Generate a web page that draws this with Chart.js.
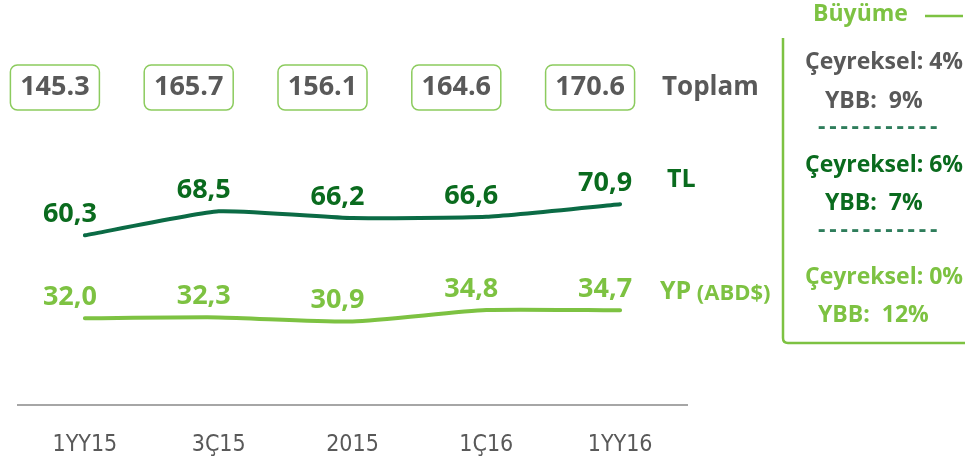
<!DOCTYPE html>
<html>
<head>
<meta charset="utf-8">
<script src="https://cdn.jsdelivr.net/npm/chart.js@4/dist/chart.umd.min.js"></script>
<style>
  html,body{margin:0;padding:0;background:#fff;}
  #wrap{width:965px;height:465px;position:relative;}
</style>
</head>
<body>
<div id="wrap"><canvas id="c" width="965" height="465"></canvas></div>
<script>
const categories = ['1YY15', '3Ç15', '2015', '1Ç16', '1YY16'];
const tlValues = [60.3, 68.5, 66.2, 66.6, 70.9];
const ypValues = [32.0, 32.3, 30.9, 34.8, 34.7];
const totals = [145.3, 165.7, 156.1, 164.6, 170.6];
const seriesNames = ['TL', 'YP'];
const seriesNameSuffix = '(ABD$)';
const totalLabel = 'Toplam';
const growthTitle = 'Büyüme';
const growthQuarterly = ['4%', '6%', '0%'];
const growthYtd = ['9%', '7%', '12%'];

const GRAY = '#595959';
const DARK = '#0A6B1E';
const DARK_LINE = '#0B6B45';
const LIGHT = '#7DC242';
const DASH = '#2E7D5B';
const FONT = '"Open Sans", Lato, sans-serif';

const fmt = v => v.toFixed(1).replace('.', ',');

const overlay = {
  id: 'overlay',
  afterDatasetsDraw(chart) {
    const ctx = chart.ctx;
    const xs = chart.scales.x;
    ctx.save();
    // data labels
    const labelColors = [DARK, LIGHT];
    chart.data.datasets.forEach((ds, di) => {
      const meta = chart.getDatasetMeta(di);
      ctx.font = 'bold 27px ' + FONT;
      ctx.fillStyle = labelColors[di];
      ctx.textAlign = 'center';
      ctx.textBaseline = 'middle';
      meta.data.forEach((pt, i) => {
        ctx.fillText(fmt(ds.data[i]), pt.x - 15, pt.y - 21);
      });
    });
    // series names
    const tlLast = chart.getDatasetMeta(0).data[tlValues.length - 1];
    const ypLast = chart.getDatasetMeta(1).data[ypValues.length - 1];
    ctx.textAlign = 'left';
    ctx.font = 'bold 25px ' + FONT;
    ctx.fillStyle = DARK;
    ctx.fillText(seriesNames[0], chart.chartArea.right - 20, tlLast.y - 24);
    ctx.fillStyle = LIGHT;
    ctx.fillText(seriesNames[1], chart.chartArea.right - 27, ypLast.y - 18);
    const w = ctx.measureText(seriesNames[1] + ' ').width;
    ctx.font = 'bold 22px ' + FONT;
    ctx.fillText(seriesNameSuffix, chart.chartArea.right - 28 + w, ypLast.y - 17);

    // total boxes
    totals.forEach((t, i) => {
      const cx = xs.getPixelForValue(i) - 30;
      const bw = 89, bh = 45, by = 65;
      ctx.beginPath();
      ctx.roundRect(cx - bw / 2, by, bw, bh, 7);
      ctx.lineWidth = 1.5;
      ctx.strokeStyle = '#8CCB5E';
      ctx.stroke();
      ctx.font = 'bold 27px ' + FONT;
      ctx.fillStyle = GRAY;
      ctx.textAlign = 'center';
      ctx.textBaseline = 'middle';
      ctx.fillText(t.toFixed(1), cx, by + bh / 2);
    });
    ctx.textAlign = 'left';
    ctx.font = 'bold 26px ' + FONT;
    ctx.fillStyle = GRAY;
    ctx.fillText(totalLabel, 662, 88);

    // growth panel
    ctx.strokeStyle = LIGHT;
    ctx.lineWidth = 2.5;
    ctx.beginPath();
    ctx.moveTo(783, 38);
    ctx.lineTo(783, 338);
    ctx.quadraticCurveTo(783, 343, 788, 343);
    ctx.lineTo(965, 343);
    ctx.stroke();
    ctx.beginPath();
    ctx.moveTo(925, 16);
    ctx.lineTo(963, 16);
    ctx.stroke();

    ctx.font = 'bold 23px ' + FONT;
    ctx.fillStyle = LIGHT;
    ctx.fillText(growthTitle, 813, 14);

    const colors = [GRAY, DARK, LIGHT];
    const qY = [62, 165, 277];
    const yY = [101, 203, 315];
    for (let k = 0; k < 3; k++) {
      ctx.fillStyle = colors[k];
      ctx.font = 'bold 23px ' + FONT;
      ctx.fillText('Çeyreksel: ' + growthQuarterly[k], 805, qY[k]);
      ctx.fillText('YBB:  ' + growthYtd[k], growthYtd[k].length > 2 ? 818 : 825, yY[k]);
      if (k < 2) {
        ctx.fillStyle = DASH;
        ctx.letterSpacing = '3.8px';
        ctx.font = 'bold 23px ' + FONT;
        ctx.fillText('-----------', 818, qY[k] + 65);
        ctx.letterSpacing = '0px';
      }
    }
    ctx.restore();
  }
};

new Chart(document.getElementById('c'), {
  type: 'line',
  data: {
    labels: categories,
    datasets: [
      { label: 'TL', data: tlValues, borderColor: DARK_LINE, borderWidth: 4, pointRadius: 0, tension: 0.15, borderCapStyle: 'round' },
      { label: 'YP', data: ypValues, borderColor: LIGHT, borderWidth: 4, pointRadius: 0, tension: 0.2, borderCapStyle: 'round' }
    ]
  },
  options: {
    responsive: false,
    animation: false,
    layout: { padding: { left: 18, right: 278, top: 0, bottom: 0 } },
    plugins: { legend: { display: false }, tooltip: { enabled: false } },
    scales: {
      x: {
        offset: true,
        grid: { display: false, drawTicks: false },
        border: { display: true, color: '#A6A6A6', width: 2 },
        ticks: { color: GRAY, padding: 26, font: { family: '"Liberation Sans Narrow", "DejaVu Sans Condensed", sans-serif', size: 23 } },
        afterFit(s) { s.height = 60; }
      },
      y: { display: false, min: 2.4, max: 140.6 }
    }
  },
  plugins: [overlay]
});
</script>
</body>
</html>
